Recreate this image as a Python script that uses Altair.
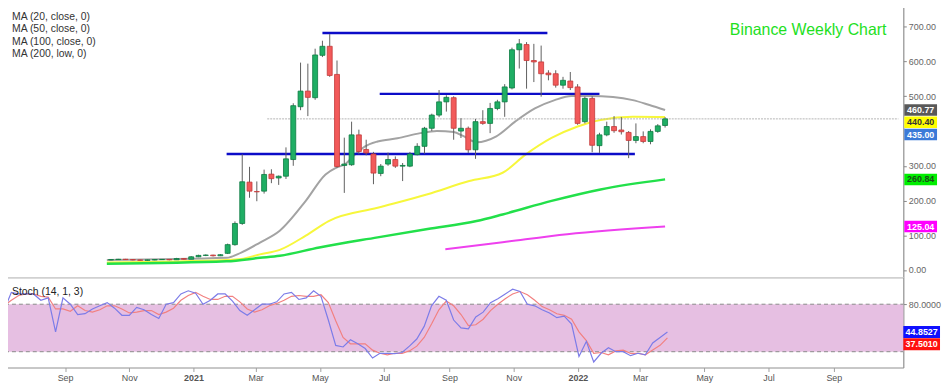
import altair as alt
import pandas as pd

# ---------------- data ----------------
LAST_WEEK = "2022-03-27"

candle_open = [29, 30, 31, 30, 29, 28, 29, 30, 30.5, 29.5,
               33, 31, 38, 42, 43, 41, 48, 73, 134, 253,
               226, 227, 276, 265, 270, 318, 470, 515, 496, 618,
               644, 563, 301, 303, 389, 347, 334, 278, 305, 318,
               299, 299, 332, 356, 408, 446, 484, 496, 400, 408,
               346, 427, 422, 465, 484, 524, 634, 649, 603, 599,
               567, 565, 532, 544, 527, 427, 494, 358, 389, 413,
               403, 396, 373, 384, 370, 399, 416]
candle_high = [31, 32, 32, 31, 30, 30, 31, 31, 31, 35,
               34, 40, 44, 45, 44, 46, 76, 140, 333, 297,
               255, 289, 290, 272, 353, 480, 597, 594, 637, 660,
               679, 603, 381, 427, 404, 375, 340, 305, 338, 327,
               308, 340, 365, 412, 450, 518, 503, 500, 437, 413,
               435, 460, 481, 490, 535, 640, 665, 656, 651, 646,
               575, 575, 556, 570, 535, 499, 500, 395, 427, 443,
               440, 400, 422, 399, 405, 420, 440]
candle_low = [28, 29, 29, 28, 27, 27, 28, 29, 28, 29,
              30, 31, 37, 40, 39, 40, 46, 70, 130, 208,
              198, 220, 250, 245, 262, 300, 460, 443, 490, 613,
              556, 294, 222, 300, 333, 330, 247, 270, 300, 294,
              256, 296, 330, 335, 400, 440, 456, 375, 380, 337,
              320, 418, 394, 460, 441, 520, 580, 522, 541, 499,
              546, 525, 522, 518, 418, 422, 339, 337, 385, 395,
              390, 322, 365, 365, 362, 395, 410]
candle_close = [30, 31, 30, 29, 28, 29, 30, 30.5, 29.5, 33,
                31, 38, 42, 43, 41, 44, 73, 134, 254, 227,
                225, 275, 263, 270, 320, 473, 515, 497, 619, 644,
                560, 298, 305, 389, 341, 337, 279, 299, 318, 299,
                301, 334, 356, 408, 446, 484, 497, 408, 408, 346,
                427, 422, 465, 484, 527, 634, 651, 603, 599, 565,
                562, 532, 546, 525, 422, 494, 359, 389, 413, 401,
                398, 373, 384, 370, 399, 415, 435]

stoch_k = [72, 95, 93, 93, 93, 85, 88, 45, 88, 80,
           67, 68, 74, 78, 82, 75, 66, 66, 76, 73,
           67, 62, 80, 82, 93, 97, 94, 80, 85, 93,
           93, 84, 72, 66, 73, 80, 80, 83, 93, 95,
           86, 88, 97, 90, 60, 28, 26, 35, 30, 24,
           12, 18, 18, 17.5, 19, 27, 36, 52, 78, 90,
           85, 60, 50, 49, 64, 70, 82, 87, 93, 99,
           96, 80, 78, 73, 69, 63, 65, 55, 14, 33,
           7, 18, 25, 20, 20, 15, 18, 16, 31, 38,
           44.8527]
stoch_d = [78, 85, 91, 93, 93, 90, 89, 74, 74, 71,
           78, 72, 70, 73, 78, 78, 74, 69, 70, 72,
           72, 67, 70, 75, 85, 91, 95, 90, 86, 86,
           90, 90, 83, 74, 70, 73, 78, 81, 85, 90,
           91, 90, 90, 92, 82, 59, 38, 30, 30, 30,
           22, 18, 16, 18, 18, 21, 27, 38, 55, 73,
           84, 78, 67, 53, 54, 61, 72, 80, 87, 93,
           96, 92, 85, 77, 73, 68, 66, 61, 45, 34,
           18, 19, 16, 21, 22, 18, 18, 16, 22, 28,
           37.5010]

ma_names = ["MA (20, close, 0)", "MA (50, close, 0)", "MA (100, close, 0)", "MA (200, low, 0)"]
ma20_dates = ["2020-10-07", "2021-01-30", "2021-02-13", "2021-03-03", "2021-03-22", "2021-04-16",
              "2021-05-05", "2021-05-15", "2021-05-24", "2021-06-02", "2021-06-12", "2021-06-24",
              "2021-07-13", "2021-08-04", "2021-08-20", "2021-09-05", "2021-09-14", "2021-09-27",
              "2021-10-16", "2021-11-03", "2021-11-22", "2021-12-11", "2021-12-27", "2022-01-14",
              "2022-02-05", "2022-02-24", "2022-03-12", "2022-03-27"]
ma20_vals = [29, 35, 50, 79, 113, 199, 275, 294, 305, 332, 356, 370, 379, 394, 400, 397, 386, 368,
             385, 427, 465, 489, 501, 501, 498, 489, 475, 460.77]
ma50_dates = ["2020-10-07", "2021-01-30", "2021-02-13", "2021-03-03", "2021-03-22", "2021-04-16",
              "2021-05-08", "2021-06-24", "2021-08-11", "2021-09-20", "2021-10-22", "2021-11-13",
              "2021-12-08", "2022-01-02", "2022-01-24", "2022-02-24", "2022-03-27"]
ma50_vals = [22, 29, 32, 45, 58, 99, 141, 179, 218, 256, 280, 332, 380, 413, 432, 441, 440.40]
ma100_dates = ["2020-10-07", "2021-01-30", "2021-03-03", "2021-03-22", "2021-04-29", "2021-06-24",
               "2021-08-11", "2021-09-27", "2021-10-22", "2021-12-08", "2022-01-24", "2022-03-27"]
ma100_vals = [18, 25, 35, 41, 65, 94, 118, 141, 160, 199, 232, 260.84]
ma200_dates = ["2021-08-28", "2021-10-22", "2021-12-23", "2022-03-27"]
ma200_vals = [60, 80, 103, 125.04]

support_levels = [334, 507, 682]
support_start = ["2021-01-30", "2021-06-26", "2021-05-02"]
support_end = ["2022-02-26", "2022-01-23", "2021-12-04"]

current_price = 435.00
current_from = "2021-03-10"
price_badge_values = [460.77, 440.40, 435.00, 260.84, 125.04]
stoch_badge_values = [44.8527, 37.5010]
price_ticks = [0, 100, 200, 300, 500, 600, 700]
stoch_levels = [20, 80]
stoch_ticks = [80]
month_ticks = [(2020, 9), (2020, 11), (2021, 1), (2021, 3), (2021, 5), (2021, 7), (2021, 9),
               (2021, 11), (2022, 1), (2022, 3), (2022, 5), (2022, 7), (2022, 9)]
title_text = "Binance Weekly Chart"
stoch_name = "Stoch (14, 1, 3)"

# ---------------- styles ----------------
FONT = "Liberation Sans"
W, H1, H2 = 906, 274, 91
PRICE_DOMAIN = [-21, 761]
STOCH_DOMAIN = [0, 114]
GREEN, GREEN_EDGE = "#1fae64", "#0d7a42"
RED, RED_EDGE = "#f25a5a", "#c23a3a"
MA_COLORS = ["#a3a3a3", "#f7f73c", "#22e04a", "#ee40ee"]
MA_WIDTHS = [2, 2, 2.5, 2]
PRICE_BADGE_BG = ["#595959", "#ffff00", "#3b7ad8", "#00ee00", "#ff00ff"]
PRICE_BADGE_FG = ["white", "#333333", "white", "#1a4d1a", "white"]
STOCH_BADGE_BG = ["#1010ff", "#ff1010"]
STOCH_COLORS = ["#7c7ce8", "#f28080"]

xdom = [alt.DateTime(year=2020, month=7, date=6, utc=True),
        alt.DateTime(year=2022, month=11, date=6, utc=True)]

axis_x_top = alt.Axis(title=None, labels=False, ticks=False, grid=False, domainColor="#a0a0a0")
axis_x_bottom = alt.Axis(
    title=None, grid=False, domainColor="#a0a0a0", tickColor="#a0a0a0", tickSize=4,
    labelFontSize=9, labelColor="#555555", labelFont=FONT, labelPadding=2,
    labelFlush=False, labelOverlap=False,
    values=[alt.DateTime(year=y, month=m, date=1, utc=True) for y, m in month_ticks],
    labelExpr="utcmonth(datum.value) == 0 ? utcFormat(datum.value, '%Y') : utcFormat(datum.value, '%b')",
    labelFontWeight={"condition": {"test": "utcmonth(datum.value) == 0", "value": "bold"}, "value": "normal"},
)
axis_price = alt.Axis(orient="right", title=None, grid=False, values=price_ticks, format=".2f",
                      labelFontSize=9, labelColor="#666666", labelFont=FONT, labelPadding=2,
                      tickSize=3, tickColor="#888888", domainColor="#888888")
axis_stoch = alt.Axis(orient="right", title=None, grid=False, values=stoch_ticks, format=".4f",
                      labelFontSize=9, labelColor="#666666", labelFont=FONT, labelPadding=2,
                      tickSize=3, tickColor="#888888", domainColor="#888888")


def XT(field, axis):
    return alt.X(f"{field}:T", scale=alt.Scale(type="utc", domain=xdom), axis=axis)


def YP(field):
    return alt.Y(f"{field}:Q", scale=alt.Scale(domain=PRICE_DOMAIN, nice=False, zero=False), axis=axis_price)


def YS(field):
    return alt.Y(f"{field}:Q", scale=alt.Scale(domain=STOCH_DOMAIN, nice=False, zero=False), axis=axis_stoch)


def spread(values, gap):
    out, prev = [], None
    for v in values:
        d = v if prev is None else min(v, prev - gap)
        out.append(d)
        prev = d
    return out


# ---------------- price panel ----------------
candle_dates = pd.date_range(end=LAST_WEEK, periods=len(candle_close), freq="7D").strftime("%Y-%m-%d")
cdf = pd.DataFrame({"date": candle_dates, "open": candle_open, "high": candle_high,
                    "low": candle_low, "close": candle_close})

layers = []
ma_sets = [(ma20_dates, ma20_vals), (ma50_dates, ma50_vals), (ma100_dates, ma100_vals), (ma200_dates, ma200_vals)]
for (d, v), col, sw in zip(ma_sets, MA_COLORS, MA_WIDTHS):
    layers.append(alt.Chart(pd.DataFrame({"date": d, "v": v}))
                  .mark_line(color=col, strokeWidth=sw, interpolate="monotone")
                  .encode(x=XT("date", axis_x_top), y=YP("v")))

layers.append(alt.Chart(pd.DataFrame({"s": [current_from], "e": ["2022-11-06"], "lvl": [current_price]}))
              .mark_rule(color="#b4b4b4", strokeWidth=1, strokeDash=[2, 1])
              .encode(x=XT("s", axis_x_top), x2="e:T", y=YP("lvl")))

layers.append(alt.Chart(pd.DataFrame({"s": support_start, "e": support_end, "lvl": support_levels}))
              .mark_rule(color="#0c0cc8", strokeWidth=2.5)
              .encode(x=XT("s", axis_x_top), x2="e:T", y=YP("lvl")))

layers.append(alt.Chart(cdf).mark_rule(color="#5f5f5f", strokeWidth=1)
              .encode(x=XT("date", axis_x_top), y=YP("low"), y2="high:Q"))

up = "datum.close >= datum.open"
layers.append(alt.Chart(cdf).mark_bar(width=5, strokeWidth=0.8)
              .encode(x=XT("date", axis_x_top), y=YP("open"), y2="close:Q",
                      fill=alt.condition(up, alt.value(GREEN), alt.value(RED)),
                      stroke=alt.condition(up, alt.value(GREEN_EDGE), alt.value(RED_EDGE))))

pdisp = spread(price_badge_values, 35.5)
pb = pd.DataFrame({"label": [f"{v:.2f}" for v in price_badge_values], "disp": pdisp,
                   "top": [d + 16.5 for d in pdisp], "bot": [d - 16.5 for d in pdisp],
                   "bg": PRICE_BADGE_BG, "fg": PRICE_BADGE_FG})
layers.append(alt.Chart(pb).mark_rect()
              .encode(x=alt.value(W + 1), x2=alt.value(W + 34), y=YP("top"), y2="bot:Q",
                      fill=alt.Fill("bg:N", scale=None)))
layers.append(alt.Chart(pb).mark_text(align="center", baseline="middle", fontSize=9, fontWeight="bold", font=FONT)
              .encode(x=alt.value(W + 17.5), y=YP("disp"), text="label:N", color=alt.Color("fg:N", scale=None)))

for i, name in enumerate(ma_names):
    layers.append(alt.Chart(pd.DataFrame({"t": [name]}))
                  .mark_text(align="left", baseline="middle", fontSize=10.5, font=FONT, color="#333333")
                  .encode(x=alt.value(7), y=alt.value(11.5 + 12.5 * i), text="t:N"))

layers.append(alt.Chart(pd.DataFrame({"t": [title_text]}))
              .mark_text(align="center", baseline="middle", fontSize=16, font=FONT, color="#1ee01e")
              .encode(x=alt.value(810), y=alt.value(25), text="t:N"))

price = alt.layer(*layers).properties(width=W, height=H1)

# ---------------- stochastic panel ----------------
stoch_dates = pd.date_range(end=LAST_WEEK, periods=len(stoch_k), freq="7D").strftime("%Y-%m-%d")
sdf = pd.DataFrame({"date": stoch_dates, "k": stoch_k, "d": stoch_d})

slayers = []
slayers.append(alt.Chart(pd.DataFrame({"lo": [min(stoch_levels)], "hi": [max(stoch_levels)]}))
               .mark_rect(color="#e6bfe2")
               .encode(x=alt.value(0), x2=alt.value(W), y=YS("hi"), y2="lo:Q"))
slayers.append(alt.Chart(pd.DataFrame({"lvl": stoch_levels}))
               .mark_rule(color="#8a8a8a", strokeWidth=1, strokeDash=[4, 3])
               .encode(x=alt.value(0), x2=alt.value(W), y=YS("lvl")))
slayers.append(alt.Chart(sdf).mark_line(color=STOCH_COLORS[1], strokeWidth=1.2, clip=True)
               .encode(x=XT("date", axis_x_bottom), y=YS("d")))
slayers.append(alt.Chart(sdf).mark_line(color=STOCH_COLORS[0], strokeWidth=1.2, clip=True)
               .encode(x=XT("date", axis_x_bottom), y=YS("k")))

sdisp = spread(stoch_badge_values, 15.5)
sb = pd.DataFrame({"label": [f"{v:.4f}" for v in stoch_badge_values], "disp": sdisp,
                   "top": [d + 7.5 for d in sdisp], "bot": [d - 7.5 for d in sdisp], "bg": STOCH_BADGE_BG})
slayers.append(alt.Chart(sb).mark_rect()
               .encode(x=alt.value(W), x2=alt.value(W + 37), y=YS("top"), y2="bot:Q",
                       fill=alt.Fill("bg:N", scale=None)))
slayers.append(alt.Chart(sb).mark_text(align="center", baseline="middle", fontSize=9, fontWeight="bold",
                                       font=FONT, color="white")
               .encode(x=alt.value(W + 18.5), y=YS("disp"), text="label:N"))
slayers.append(alt.Chart(pd.DataFrame({"t": [stoch_name]}))
               .mark_text(align="left", baseline="middle", fontSize=10.5, font=FONT, color="#222222")
               .encode(x=alt.value(7), y=alt.value(15), text="t:N"))

stoch = alt.layer(*slayers).properties(width=W, height=H2)

chart = (alt.vconcat(price, stoch, spacing=0, bounds="flush")
         .properties(padding={"left": -4, "top": -5, "right": 0, "bottom": 0}, background="white")
         .configure_view(strokeWidth=0)
         .configure(font=FONT))

chart.save("out.html", embed_options={"renderer": "svg", "actions": False})
